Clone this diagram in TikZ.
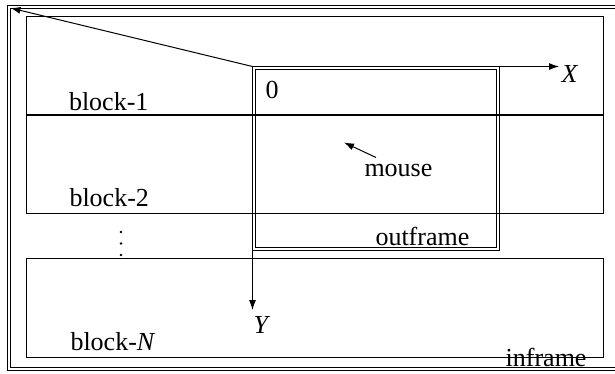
\documentclass[tikz,border=0pt]{standalone}
\usepackage{fontspec}
\setmainfont{Liberation Serif}
\usetikzlibrary{arrows.meta}
\begin{document}
\begin{tikzpicture}[x=1pt,y=-1pt,line width=1pt,
  lbl/.style={font=\fontsize{26}{30}\selectfont, inner sep=0pt},
  arr/.style={-{Latex[length=10pt,width=7pt]}},
  dotmark/.style={fill=black, draw=none}]
\useasboundingbox (0,0) rectangle (615,373);
% outer frame (double, clipped at the right)
\begin{scope}
  \clip (0,0) rectangle (615,373);
  \draw (7,5) rectangle (625,370);
  \draw (10.5,8) rectangle (622,367);
\end{scope}
% blocks of the inframe
\draw (26,16.5) rectangle (603,213);
\draw[line width=1.8pt] (26,115) -- (603,115);
\draw (26,258) rectangle (603,357);
% outframe (double)
\draw (252.5,66.5) rectangle (499,250.5);
\draw (255.5,69.5) rectangle (496,247.5);
% coordinates
\coordinate (O) at (252.5,66.5);
\coordinate (OR) at (499,66.5);
\coordinate (corner) at (10.5,8);
\coordinate (xtip) at (559,66.5);
\coordinate (ytip) at (252.5,310);
\coordinate (mtail) at (376,157.5);
\coordinate (mtip) at (344,142.5);
% axes and arrows
\draw[arr] (O) -- (corner);
\draw[arr] (OR) -- (xtip);
\draw[arr] (O) -- (ytip);
\draw[arr] (mtail) -- (mtip);
% labels
\node[lbl, anchor=base west] (b1) at (68.5,110) {block-1};
\node[lbl, anchor=base west] (b2) at (69,206) {block-2};
\node[lbl, anchor=base west] (bN) at (70,350.5) {block-\textit{N}};
\node[lbl, anchor=base west] (zero) at (265,98) {0};
\node[lbl, anchor=base west] (mouse) at (364,176) {mouse};
\node[lbl, anchor=base west] (outf) at (375,245) {outframe};
\node[lbl, anchor=base west] (xl) at (561,82) {\textit{X}};
\node[lbl, anchor=base west] (yl) at (253,333) {\textit{Y}};
\node[lbl, anchor=base east] (inf) at (587,366) {inframe};
% vertical dots
\fill[dotmark] (121,232) circle (1.3);
\fill[dotmark] (121,243.5) circle (1.3);
\fill[dotmark] (121,255) circle (1.3);
\end{tikzpicture}
\end{document}
